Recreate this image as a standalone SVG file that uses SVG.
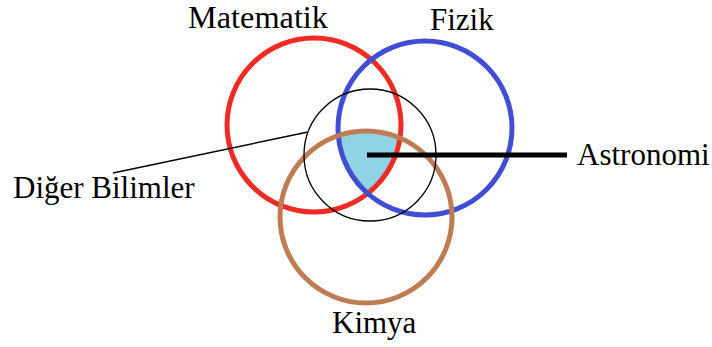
<svg xmlns="http://www.w3.org/2000/svg" width="712" height="347" viewBox="0 0 712 347">
<style>
.ring{fill:none;stroke-width:5}
.lbl{font-family:"Liberation Serif","Times New Roman",serif;font-size:31px;fill:#000}
</style>
<defs>
<clipPath id="cBlue"><circle cx="425" cy="128" r="87"/></clipPath>
<clipPath id="cBrown"><circle cx="366" cy="217" r="86"/></clipPath>
</defs>
<rect width="712" height="347" fill="#fff"/>
<g id="astronomi-area" clip-path="url(#cBlue)"><g clip-path="url(#cBrown)"><circle cx="314" cy="125" r="87" fill="#8FD4E5"/></g></g>
<g id="matematik"><circle class="ring" cx="314" cy="125" r="87" stroke="#EE2B24"/><text class="lbl" x="188" y="28" textLength="140" lengthAdjust="spacingAndGlyphs">Matematik</text></g>
<g id="fizik"><circle class="ring" cx="425" cy="128" r="87" stroke="#3F4ED2"/><text class="lbl" x="430" y="30">Fizik</text></g>
<g id="kimya"><circle class="ring" cx="366" cy="217" r="86" stroke="#BE7C54"/><text class="lbl" x="332" y="333">Kimya</text></g>
<g id="diger"><circle cx="370" cy="155" r="66" fill="none" stroke="#000" stroke-width="1.3"/><text class="lbl" x="13" y="198">Diğer Bilimler</text></g>
<g id="astronomi"><text class="lbl" x="577" y="165">Astronomi</text></g>
<g id="connectors">
<line x1="367" y1="155" x2="567" y2="155" stroke="#000" stroke-width="5"/>
<line x1="113" y1="173" x2="308" y2="132" stroke="#000" stroke-width="1.5"/>
</g>
</svg>
